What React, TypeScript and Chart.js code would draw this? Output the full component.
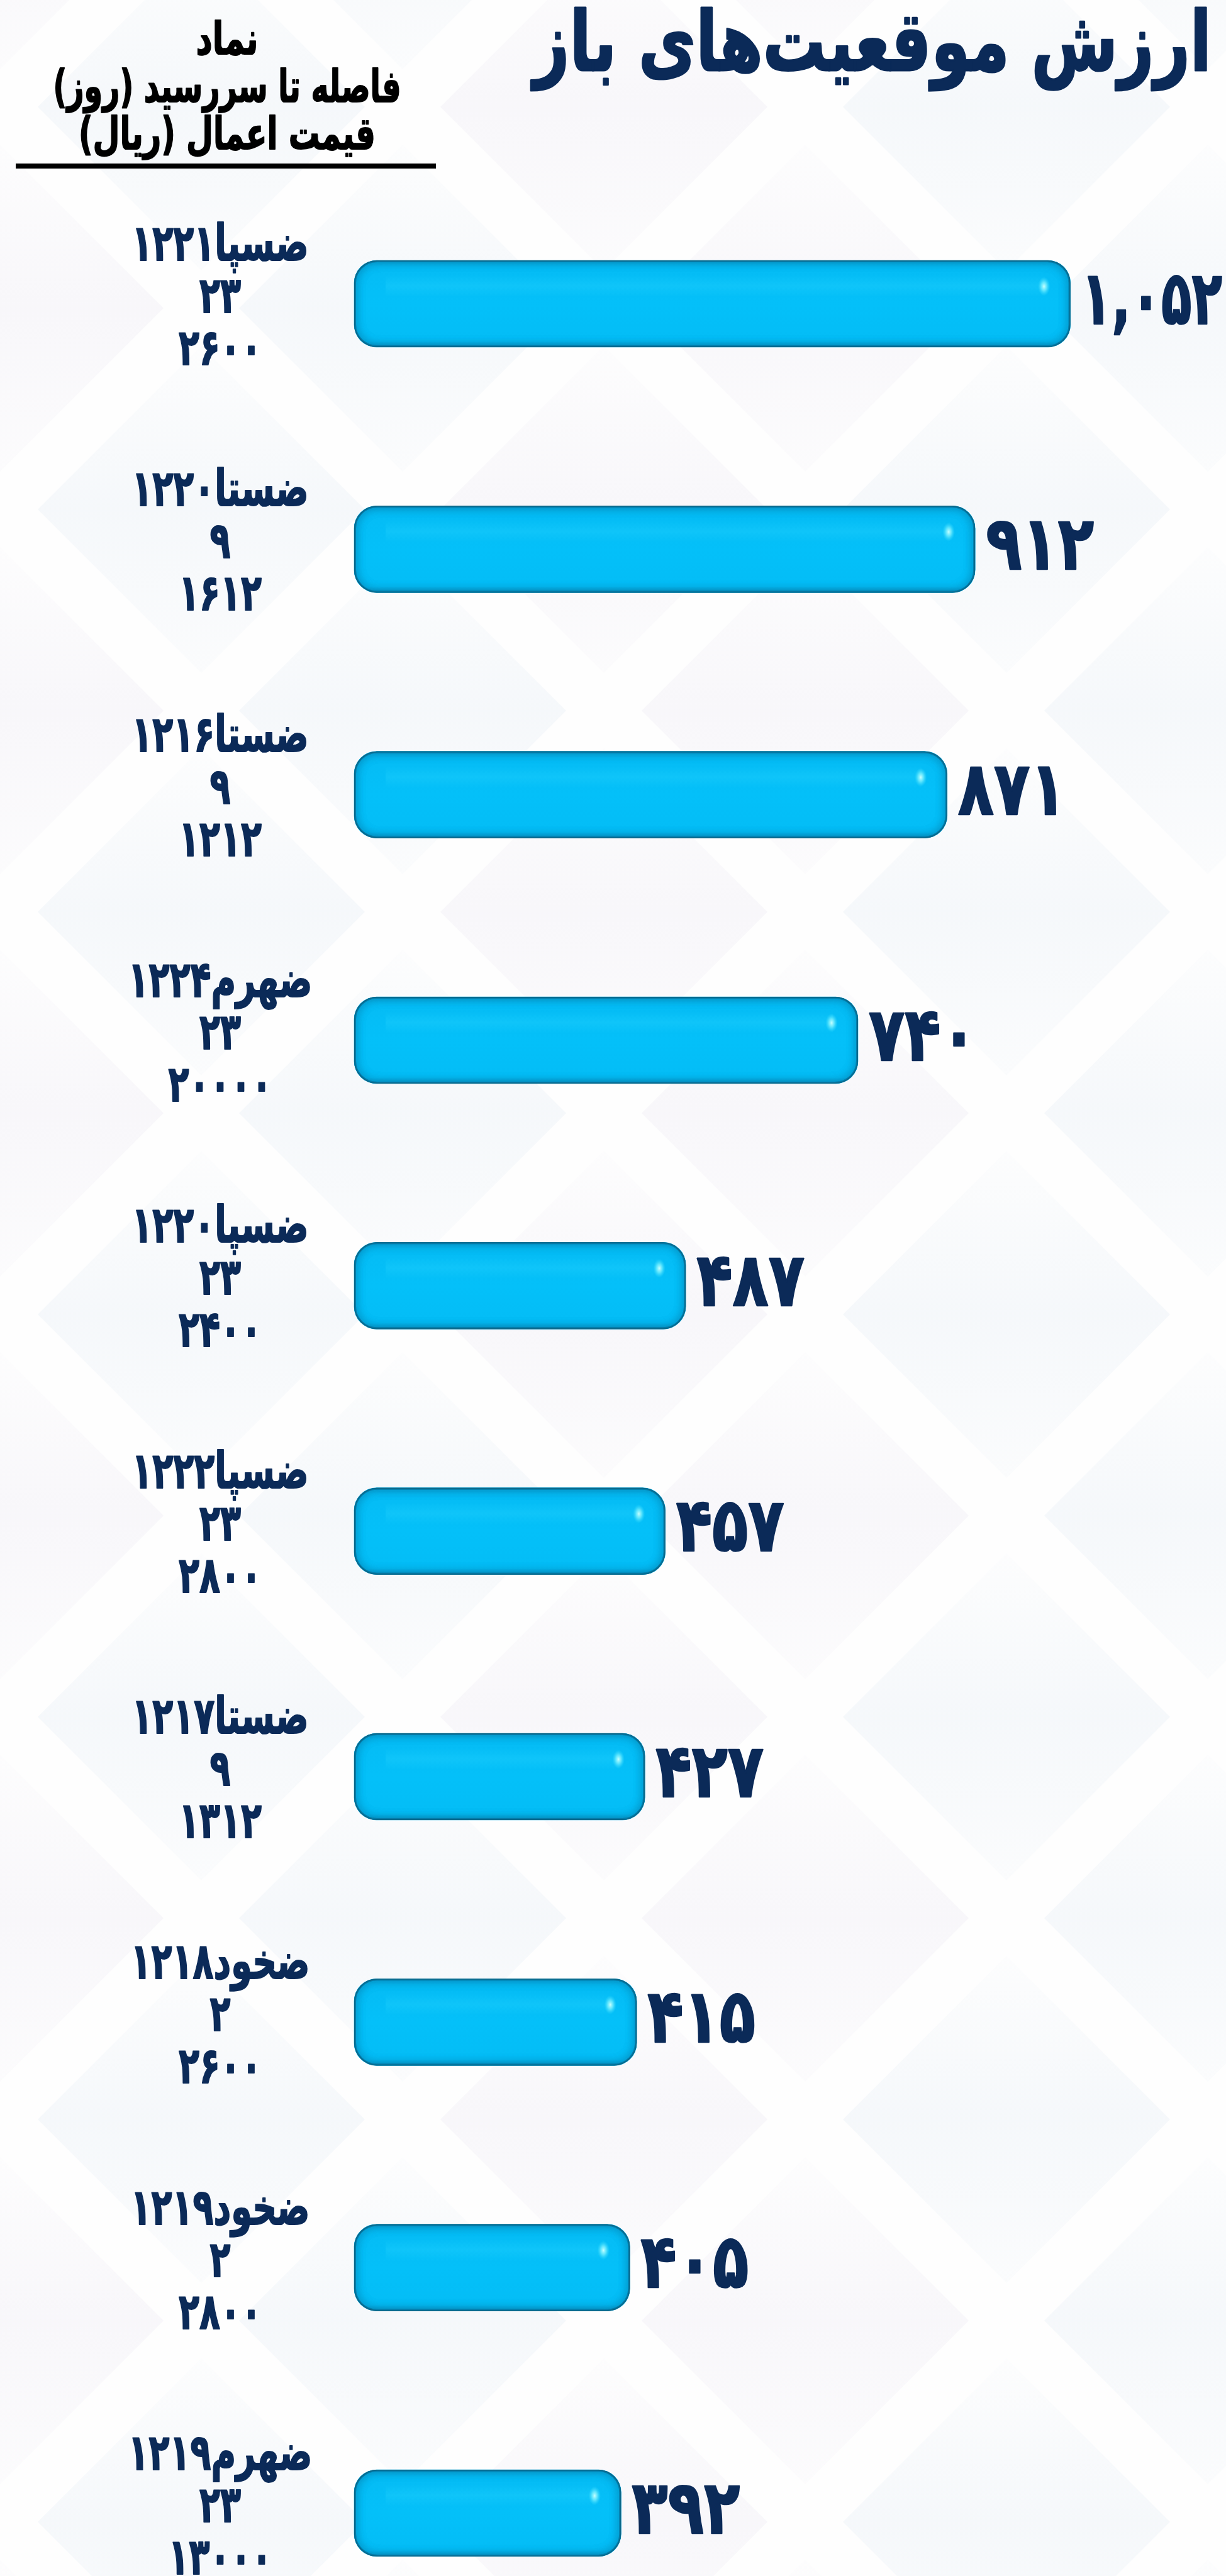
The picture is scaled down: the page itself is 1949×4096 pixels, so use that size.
import { useEffect, useRef } from 'react';
import { Chart, registerables } from 'chart.js';

Chart.register(...registerables);

// ---------- data ----------
const symbols = ['ضسپا۱۲۲۱', 'ضستا۱۲۲۰', 'ضستا۱۲۱۶', 'ضهرم۱۲۲۴', 'ضسپا۱۲۲۰', 'ضسپا۱۲۲۲', 'ضستا۱۲۱۷', 'ضخود۱۲۱۸', 'ضخود۱۲۱۹', 'ضهرم۱۲۱۹'];
const daysToMaturity = [23, 9, 9, 23, 23, 23, 9, 2, 2, 23];
const strikePrices = [2600, 1612, 1212, 20000, 2400, 2800, 1312, 2600, 2800, 13000];
const openValues = [1052, 912, 871, 740, 487, 457, 427, 415, 405, 392];

const titleText = 'ارزش موقعیت‌های باز';
const headerLines = ['نماد', 'فاصله تا سررسید (روز)', 'قیمت اعمال (ریال)'];

// ---------- style ----------
const W = 1949;
const H = 4096;
const FAM = "'DejaVu Sans', 'Noto Sans', sans-serif";
const NAVY = '#0b2a58';
const BAR_THICK = 138;
const BAR_RADIUS = 36;
const BAR_FLAT = '#05bff8';

const fa = (s: string | number) => String(s).replace(/\d/g, (d) => '۰۱۲۳۴۵۶۷۸۹'[+d]);
const faNum = (n: number) => fa(n.toLocaleString('en-US'));

function roundRectPath(ctx: CanvasRenderingContext2D, x: number, y: number, w: number, h: number, r: number) {
  const rr = Math.max(0, Math.min(r, w / 2, h / 2));
  ctx.moveTo(x + rr, y);
  ctx.lineTo(x + w - rr, y);
  ctx.arcTo(x + w, y, x + w, y + rr, rr);
  ctx.lineTo(x + w, y + h - rr);
  ctx.arcTo(x + w, y + h, x + w - rr, y + h, rr);
  ctx.lineTo(x + rr, y + h);
  ctx.arcTo(x, y + h, x, y + h - rr, rr);
  ctx.lineTo(x, y + rr);
  ctx.arcTo(x, y, x + rr, y, rr);
  ctx.closePath();
}

function sizeFor(ctx: CanvasRenderingContext2D, sample: string, targetH: number) {
  ctx.font = `bold 100px ${FAM}`;
  const m = ctx.measureText(sample);
  const h = m.actualBoundingBoxAscent + m.actualBoundingBoxDescent;
  return (100 * targetH) / (h > 5 ? h : 73);
}

function widthOf(ctx: CanvasRenderingContext2D, text: string, font: string) {
  ctx.font = font;
  const w = ctx.measureText(text).width;
  return w > 1 ? w : 1;
}

function drawScaled(
  ctx: CanvasRenderingContext2D,
  text: string,
  x: number,
  y: number,
  font: string,
  sx: number,
  align: CanvasTextAlign,
  color: string,
  weight = 0
) {
  ctx.save();
  ctx.font = font;
  ctx.fillStyle = color;
  ctx.strokeStyle = color;
  ctx.lineJoin = 'round';
  ctx.textAlign = align;
  ctx.textBaseline = 'alphabetic';
  ctx.translate(x, y);
  ctx.scale(sx, 1);
  ctx.fillText(text, 0, 0);
  if (weight > 0) {
    ctx.lineWidth = weight;
    ctx.strokeText(text, 0, 0);
  }
  ctx.restore();
}

const backgroundPlugin = {
  id: 'bgPattern',
  beforeDraw(chart: any) {
    const ctx: CanvasRenderingContext2D = chart.ctx;
    ctx.save();
    ctx.fillStyle = '#fefefe';
    ctx.fillRect(0, 0, chart.width, chart.height);
    const step = 640;
    const half = 260;
    let row = 0;
    for (let cy = -150; cy < chart.height + step; cy += step / 2, row++) {
      const off = row % 2 === 0 ? 0 : step / 2;
      let col = 0;
      for (let cx = -step + off; cx < chart.width + step; cx += step, col++) {
        const g = ctx.createLinearGradient(cx, cy - half, cx, cy + half);
        const tint = (row + col) % 2 === 0 ? '238,243,248' : '243,241,247';
        g.addColorStop(0, `rgba(${tint},0.1)`);
        g.addColorStop(0.5, `rgba(${tint},0.55)`);
        g.addColorStop(1, `rgba(${tint},0.2)`);
        ctx.beginPath();
        ctx.moveTo(cx, cy - half);
        ctx.lineTo(cx + half, cy);
        ctx.lineTo(cx, cy + half);
        ctx.lineTo(cx - half, cy);
        ctx.closePath();
        ctx.fillStyle = g;
        ctx.fill();
      }
    }
    ctx.restore();
  },
};

const barFxPlugin = {
  id: 'barFx',
  afterDatasetsDraw(chart: any) {
    const ctx: CanvasRenderingContext2D = chart.ctx;
    const meta = chart.getDatasetMeta(0);
    meta.data.forEach((el: any) => {
      const p = el.getProps(['x', 'y', 'base', 'height'], true);
      if (![p.x, p.y, p.base, p.height].every(Number.isFinite)) return;
      const left = Math.min(p.x, p.base);
      const right = Math.max(p.x, p.base);
      const top = p.y - p.height / 2;
      const h = p.height;
      const w = right - left;
      ctx.save();
      ctx.beginPath();
      roundRectPath(ctx, left, top, w, h, BAR_RADIUS);
      ctx.clip();
      // faint highlight band
      const g = ctx.createLinearGradient(0, top + h * 0.17, 0, top + h * 0.42);
      g.addColorStop(0, 'rgba(40,215,255,0)');
      g.addColorStop(0.5, 'rgba(40,212,255,0.3)');
      g.addColorStop(1, 'rgba(40,215,255,0)');
      ctx.fillStyle = g;
      ctx.fillRect(left + 50, top + h * 0.17, w - 90, h * 0.25);
      // bright spot near right end
      ctx.save();
      ctx.translate(right - 42, top + h * 0.3);
      ctx.scale(0.65, 1);
      const rg = ctx.createRadialGradient(0, 0, 0, 0, 0, 15);
      rg.addColorStop(0, 'rgba(200,255,255,1)');
      rg.addColorStop(0.45, 'rgba(120,240,255,0.75)');
      rg.addColorStop(1, 'rgba(60,220,255,0)');
      ctx.fillStyle = rg;
      ctx.beginPath();
      ctx.arc(0, 0, 15, 0, Math.PI * 2);
      ctx.fill();
      ctx.restore();
      // inner rim shading (bevel)
      ctx.beginPath();
      roundRectPath(ctx, left, top, w, h, BAR_RADIUS);
      ctx.lineWidth = 6;
      ctx.strokeStyle = 'rgba(5,120,165,0.6)';
      ctx.shadowColor = 'rgba(3,105,150,0.85)';
      ctx.shadowBlur = 14;
      ctx.stroke();
      ctx.stroke();
      ctx.restore();
      // outline
      ctx.save();
      ctx.beginPath();
      roundRectPath(ctx, left + 0.75, top + 0.75, w - 1.5, h - 1.5, BAR_RADIUS);
      ctx.lineWidth = 1.5;
      ctx.strokeStyle = '#0a6788';
      ctx.stroke();
      ctx.restore();
    });
  },
};

const textPlugin = {
  id: 'texts',
  afterDraw(chart: any) {
    const ctx: CanvasRenderingContext2D = chart.ctx;
    ctx.save();
    ctx.direction = 'rtl';

    // title
    const tSize = sizeFor(ctx, 'ا', 100);
    const tFont = `bold ${tSize}px ${FAM}`;
    const tSx = 1078 / widthOf(ctx, titleText, tFont);
    drawScaled(ctx, titleText, 1926, 112, tFont, tSx, 'right', NAVY, 3);

    // header
    const hSize = sizeFor(ctx, 'ا', 54);
    const hFont = `bold ${hSize}px ${FAM}`;
    const hWidths = [99, 553, 472];
    const hBase = [86, 162, 237];
    headerLines.forEach((line, i) => {
      const sx = hWidths[i] / widthOf(ctx, line, hFont);
      drawScaled(ctx, line, 361, hBase[i], hFont, sx, 'center', '#000000', 2);
    });
    ctx.fillStyle = '#000000';
    ctx.fillRect(25, 260, 668, 8);

    // category labels (3 lines each)
    const yScale = chart.scales.y;
    const lSize = sizeFor(ctx, '۲۳', 51);
    const lFont = `bold ${lSize}px ${FAM}`;
    const lSx = 132 / widthOf(ctx, '۲۶۰۰', lFont);
    const offs = [-69, 14, 97];
    symbols.forEach((sym, i) => {
      const yc = yScale.getPixelForValue(i);
      const lines = [sym, fa(daysToMaturity[i]), fa(strikePrices[i])];
      lines.forEach((ln, k) => drawScaled(ctx, ln, 350, yc + offs[k], lFont, lSx, 'center', NAVY, 2));
    });

    // value labels
    const vSize = sizeFor(ctx, '۴۸۷', 77);
    const vFont = `bold ${vSize}px ${FAM}`;
    const vSx = 172 / widthOf(ctx, '۴۸۷', vFont);
    ctx.font = vFont;
    const vm = ctx.measureText('۴۸۷');
    const meta = chart.getDatasetMeta(0);
    meta.data.forEach((el: any, i: number) => {
      const p = el.getProps(['x', 'y'], true);
      const txt = faNum(openValues[i]);
      const x0 = p.x + 17;
      const wNat = widthOf(ctx, txt, vFont) * vSx;
      const sx = x0 + wNat > W - 6 ? (vSx * (W - 6 - x0)) / wNat : vSx;
      const base = p.y - 7 + (vm.actualBoundingBoxAscent - vm.actualBoundingBoxDescent) / 2;
      drawScaled(ctx, txt, x0, base, vFont, sx, 'left', NAVY, 2.5);
    });
    ctx.restore();
  },
};

export default function App() {
  const ref = useRef<HTMLCanvasElement>(null);
  useEffect(() => {
    const canvas = ref.current;
    if (!canvas) return;
    const chart = new Chart(canvas, {
      type: 'bar',
      data: {
        labels: symbols,
        datasets: [
          {
            data: openValues,
            barThickness: BAR_THICK,
            borderRadius: BAR_RADIUS,
            borderSkipped: false,
            borderWidth: 0,
            clip: false as any,
            backgroundColor: (c: any) => {
              const ch = c.chart;
              const ys = ch.scales && ch.scales.y;
              if (!ys || c.dataIndex == null || !ch.ctx) return BAR_FLAT;
              const yc = ys.getPixelForValue(c.dataIndex);
              if (!Number.isFinite(yc)) return BAR_FLAT;
              const hh = BAR_THICK / 2;
              const g = ch.ctx.createLinearGradient(0, yc - hh, 0, yc + hh);
              g.addColorStop(0, '#07aee4');
              g.addColorStop(0.07, '#05bcf5');
              g.addColorStop(0.5, '#04c0f9');
              g.addColorStop(0.93, '#04bdf6');
              g.addColorStop(1, '#069fd2');
              return g;
            },
          },
        ],
      },
      options: {
        indexAxis: 'y',
        responsive: false,
        animation: false,
        devicePixelRatio: 1,
        layout: { padding: { left: 563, right: 33, top: 483, bottom: 100 } },
        plugins: { legend: { display: false }, tooltip: { enabled: false }, title: { display: false } },
        scales: {
          x: { type: 'linear', min: 0, max: 1250, display: false },
          y: { type: 'category', offset: false, display: false },
        },
      },
      plugins: [backgroundPlugin, barFxPlugin, textPlugin],
    });
    return () => chart.destroy();
  }, []);
  return (
    <div style={{ position: 'absolute', left: 0, top: 0, width: W, height: H, overflow: 'hidden' }}>
      <canvas ref={ref} width={W} height={H} style={{ display: 'block', direction: 'rtl' }} />
    </div>
  );
}
